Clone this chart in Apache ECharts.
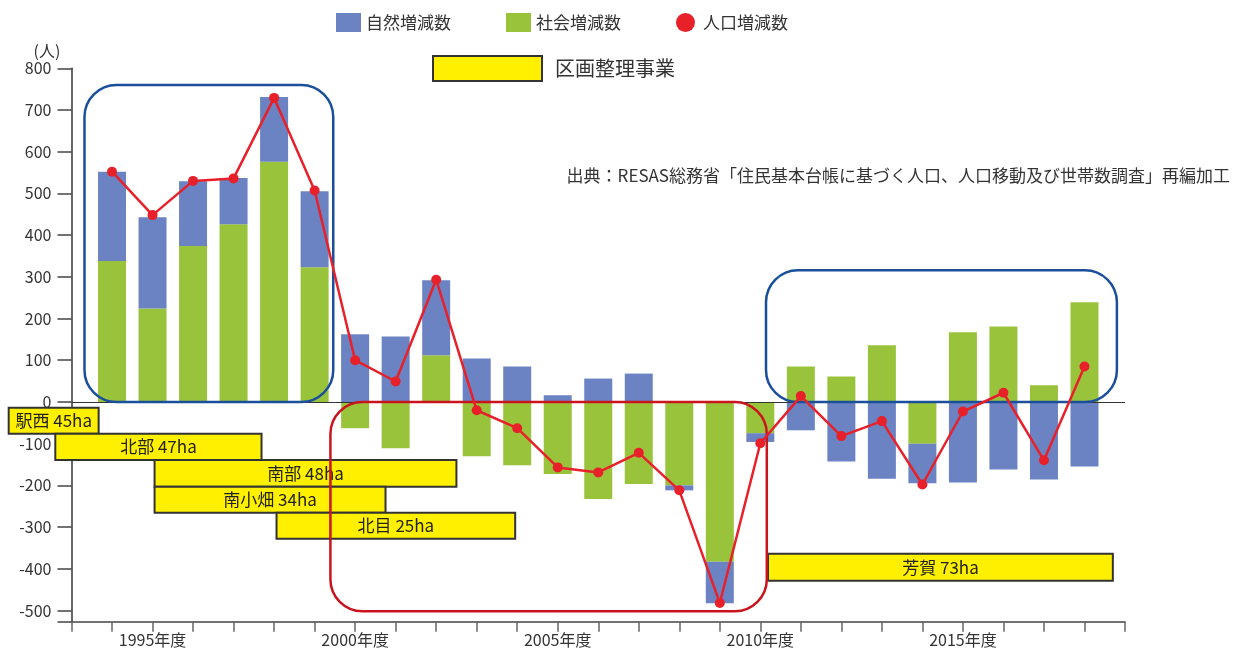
<!DOCTYPE html>
<html><head><meta charset="utf-8">
<script src="https://cdn.jsdelivr.net/npm/echarts@6/dist/echarts.min.js"></script>
<style>html,body{margin:0;padding:0;background:#fff}#main{width:1237px;height:648px}</style>
</head><body><div id="main"></div>
<script>
// ---- data ----
const years = [1994,1995,1996,1997,1998,1999,2000,2001,2002,2003,2004,2005,2006,2007,2008,2009,2010,2011,2012,2013,2014,2015,2016,2017,2018];
const naturalChange = [214,219,155,111,155,182,162,157,180,104,85,16,56,68,-12,-100,-21,-68,-143,-184,-95,-193,-162,-186,-155];
const socialChange  = [338,224,374,426,576,323,-63,-111,112,-130,-152,-173,-233,-197,-200,-383,-75,85,61,136,-100,167,181,40,239];
const populationChange = [552,448,530,536,729,507,100,49,293,-20,-63,-157,-169,-122,-212,-482,-99,14,-82,-46,-198,-23,22,-140,85];
const yTickValues = [-500,-400,-300,-200,-100,0,100,200,300,400,500,600,700,800];
const xLabelYears = [1995,2000,2005,2010,2015];
const projectNames = ['駅西 45ha','北部 47ha','南部 48ha','南小畑 34ha','北目 25ha','芳賀 73ha'];
const projectStartYear = [1991.45,1992.6,1995.05,1995.05,1998.06,2010.19];
const projectEndYear   = [1993.67,1997.69,2002.5,2000.75,2003.95,2018.7];
const sourceText = '出典：RESAS総務省「住民基本台帳に基づく人口、人口移動及び世帯数調査」再編加工';

// ---- layout ----
const FONT = '"Noto Sans CJK JP", "Noto Sans", sans-serif';
const AXIS_FIRST = 1993, AXIS_LAST = 2019, Y_MIN = -527, Y_MAX = 800;
const projectRowTop    = [-14, -76.5, -139, -203.5, -266, -364];
const projectRowBottom = [-76.5, -139, -203.5, -266, -328, -429];
const highlightRegions = [
  {x0:1993.32, x1:1999.46, y0:760, y1:0, color:'#1b4f9c'},
  {x0:2010.14, x1:2018.8,  y0:316, y1:0, color:'#1b4f9c'},
  {x0:1999.39, x1:2010.16, y0:0, y1:-502, color:'#c9141e'}
];
const BLUE = '#6b83c2', GREEN = '#9ac33c', RED = '#e8202a', YELLOW = '#fff000';

const axisYears = [];
for (let y = AXIS_FIRST; y <= AXIS_LAST; y++) axisYears.push(String(y));
const pairs = arr => years.map((y, i) => [String(y), arr[i]]);

const chart = echarts.init(document.getElementById('main'));
chart.setOption({
  animation: false,
  textStyle: {fontFamily: FONT},
  grid: {left: 71.5, right: 112, top: 68.3, bottom: 26.3, outerBoundsMode: 'none'},
  legend: {
    left: 336, top: 13, padding: 0, itemWidth: 25, itemHeight: 19, itemGap: 55,
    textStyle: {fontSize: 17, color: '#333', fontFamily: FONT},
    data: [{name:'自然増減数', icon:'rect'}, {name:'社会増減数', icon:'rect'}, {name:'人口増減数', icon:'circle'}]
  },
  xAxis: {
    type: 'category', data: axisYears, boundaryGap: false,
    splitLine: {show: false},
    axisLine: {show: true, onZero: false, lineStyle: {color: '#444', width: 1.5}},
    axisTick: {show: true, length: 10, interval: 0, lineStyle: {color: '#666', width: 1.5}},
    axisLabel: {interval: 0, formatter: v => xLabelYears.indexOf(Number(v)) >= 0 ? v + '年度' : '',
                margin: 10, fontSize: 16, color: '#333', fontFamily: FONT}
  },
  yAxis: {
    type: 'value', min: Y_MIN, max: Y_MAX,
    splitLine: {show: false},
    axisLine: {show: true, lineStyle: {color: '#333', width: 1.5}},
    axisTick: {show: true, length: 14, customValues: [Y_MIN].concat(yTickValues), lineStyle: {color: '#444', width: 1.5}},
    axisLabel: {customValues: yTickValues, margin: 20, fontSize: 16, color: '#333', fontFamily: FONT}
  },
  series: [
    {name:'社会増減数', type:'bar', stack:'a', barWidth: 28, itemStyle:{color: GREEN},
     data: pairs(socialChange),
     markLine: {silent: true, symbol: 'none', label: {show: false}, lineStyle: {color: '#333', width: 1, type: 'solid'}, data: [{yAxis: 0}]}},
    {name:'自然増減数', type:'bar', stack:'a', barWidth: 28, itemStyle:{color: BLUE},
     data: pairs(naturalChange)},
    {name:'人口増減数', type:'line', z: 10, symbol:'circle', symbolSize: 10,
     itemStyle:{color: RED}, lineStyle:{color: RED, width: 2.5},
     data: pairs(populationChange)}
  ]
});

// map a (fractional) year and a value to pixels through the chart's own axes
const p0 = chart.convertToPixel({gridIndex: 0}, [0, 0]);
const p1 = chart.convertToPixel({gridIndex: 0}, [1, 0]);
const step = p1[0] - p0[0];
function px(year, v){
  const yy = chart.convertToPixel({yAxisIndex: 0}, v);
  return [p0[0] + (year - AXIS_FIRST) * step, yy];
}
const g = [];
projectNames.forEach((name, i) => {
  const a = px(projectStartYear[i], projectRowTop[i]);
  const b = px(projectEndYear[i], projectRowBottom[i]);
  g.push({type:'rect', z: 6, shape:{x:a[0], y:a[1], width:b[0]-a[0], height:b[1]-a[1]},
    style:{fill: YELLOW, stroke:'#333', lineWidth: 2}});
  g.push({type:'text', z: 7, x:(a[0]+b[0])/2, y:(a[1]+b[1])/2,
    style:{text:name, font:'17px ' + FONT, fill:'#222', textAlign:'center', textVerticalAlign:'middle'}});
});
highlightRegions.forEach(r => {
  const a = px(r.x0, r.y0), b = px(r.x1, r.y1);
  g.push({type:'rect', z: 8, shape:{x:a[0], y:a[1], width:b[0]-a[0], height:b[1]-a[1], r: 32},
    style:{fill:'none', stroke:r.color, lineWidth: 2.5}});
});
g.push({type:'rect', z: 6, shape:{x:433, y:56, width:109, height:25}, style:{fill: YELLOW, stroke:'#333', lineWidth: 2}});
g.push({type:'text', z: 6, x:555, y:68.5, style:{text:'区画整理事業', font:'20px ' + FONT, fill:'#333', textVerticalAlign:'middle'}});
g.push({type:'text', z: 6, x:47, y:51, style:{text:'(人)', font:'16px ' + FONT, fill:'#333', textAlign:'center', textVerticalAlign:'middle'}});
g.push({type:'text', z: 6, x:1230, y:176, style:{text:sourceText, font:'17px ' + FONT, fill:'#333', textAlign:'right', textVerticalAlign:'middle'}});
chart.setOption({graphic: g});
</script></body></html>
